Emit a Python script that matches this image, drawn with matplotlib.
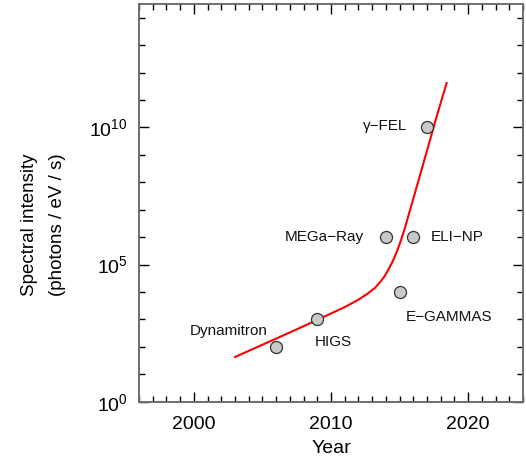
import matplotlib
matplotlib.use("Agg")
import matplotlib.pyplot as plt
from matplotlib.ticker import MultipleLocator, FixedLocator, NullFormatter

plt.rcParams['font.family'] = ['Liberation Sans', 'DejaVu Sans']
plt.rcParams['mathtext.fontset'] = 'custom'
plt.rcParams['mathtext.rm'] = 'Liberation Sans'
plt.rcParams['mathtext.it'] = 'Liberation Sans:italic'
plt.rcParams['mathtext.bf'] = 'Liberation Sans:bold'

# facilities
names = ["Dynamitron", "HIGS", "MEGa\u2212Ray", "E\u2212GAMMAS", "ELI\u2212NP", "\u03b3\u2212FEL"]
years = [2006, 2009, 2014, 2015, 2016, 2017]
intensity = [1e2, 1e3, 1e6, 1e4, 1e6, 1e10]

# trend curve (log10 of intensity)
curve_years = [2003.0, 2006.0, 2009.0, 2011.0, 2012.0, 2012.7, 2013.2, 2013.6,
               2013.9, 2014.2, 2014.5, 2014.8, 2015.1, 2015.4, 2015.8, 2016.4,
               2017.0, 2017.6, 2018.43]
curve_log = [1.63, 2.30, 2.98, 3.45, 3.72, 3.95, 4.15, 4.37,
             4.57, 4.83, 5.12, 5.47, 5.88, 6.35, 7.05, 8.10,
             9.15, 10.22, 11.62]

# label placement (offset in points, ha)
label_style = {
    "Dynamitron": ((-34.5, 11.5), 'center'),
    "HIGS": ((11.5, -16), 'center'),
    "MEGa\u2212Ray": ((-16, 0), 'right'),
    "E\u2212GAMMAS": ((35.5, -18), 'center'),
    "ELI\u2212NP": ((12.5, 0), 'left'),
    "\u03b3\u2212FEL": ((-14.5, 1), 'right'),
}

fig = plt.figure(figsize=(5.26, 4.61), dpi=100)
ax = fig.add_axes([139/526, 1-401.7/461, (523-139)/526, (401.7-4)/461])

ax.plot(curve_years, [10**v for v in curve_log], color='#ff0000', lw=1.5,
        zorder=2, solid_joinstyle='round')
ax.scatter(years, intensity, s=75, facecolor='#c8c8c8', edgecolor='#333333',
           linewidths=0.9, zorder=3)

for n, x, y in zip(names, years, intensity):
    off, ha = label_style[n]
    ax.annotate(n, (x, y), xytext=off, textcoords='offset points', ha=ha,
                va='center', fontsize=11, color='#111111')

ax.set_yscale('log')
ax.set_xlim(1996, 2024)
ax.set_ylim(1, 10**14.5)

ax.xaxis.set_major_locator(MultipleLocator(10))
ax.xaxis.set_minor_locator(MultipleLocator(1))
ax.yaxis.set_major_locator(FixedLocator([1, 1e5, 1e10]))
ax.yaxis.set_minor_locator(FixedLocator([10.0**k for k in range(0, 15)]))
ax.yaxis.set_minor_formatter(NullFormatter())
ax.set_yticklabels([r'$\mathregular{10^{0}}$', r'$\mathregular{10^{5}}$',
                    r'$\mathregular{10^{10}}$'])

for s in ax.spines.values():
    s.set_color('#6e6e6e')
    s.set_linewidth(1.4)

ax.tick_params(which='both', direction='in', top=True, right=True, colors='black',
               labelsize=14, width=1.0)
ax.tick_params(which='major', length=7.5, pad=8)
ax.tick_params(axis='x', which='major', pad=10)
ax.tick_params(which='minor', length=4)

ax.set_xlabel('Year', fontsize=14, labelpad=5)
fig.text(30/526, 1-225/461, 'Spectral intensity', rotation=90, ha='center',
         va='center', fontsize=13.5)
fig.text(58/526, 1-225/461, '(photons / eV / s)', rotation=90, ha='center',
         va='center', fontsize=13.5)

fig.savefig('out.png', dpi=100)
